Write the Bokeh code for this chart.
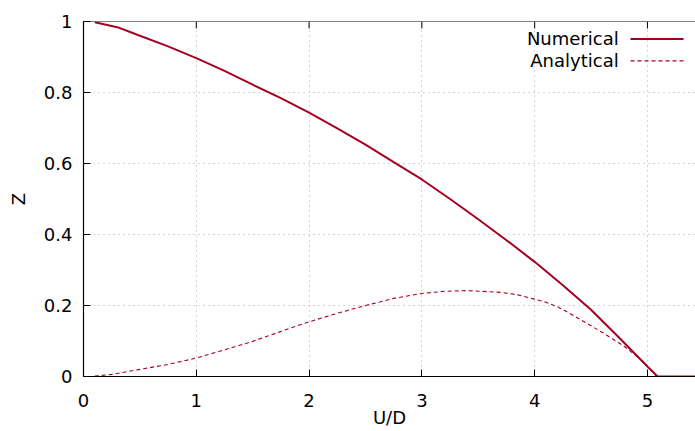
from bokeh.plotting import figure
from bokeh.models import Range1d, FixedTicker, Label, Arrow, Span, CustomJSTickFormatter
from bokeh.embed import file_html
from bokeh.resources import INLINE

# ---- data ----
x_numerical = [0.1, 0.3, 0.5, 0.75, 1.0, 1.25, 1.5, 1.75, 2.0, 2.25, 2.5, 2.75, 3.0,
               3.25, 3.5, 3.75, 4.0, 4.25, 4.5, 4.75, 5.0, 5.09, 5.45]
y_numerical = [0.998, 0.984, 0.960, 0.930, 0.897, 0.861, 0.822, 0.784, 0.743, 0.699, 0.653,
               0.604, 0.555, 0.500, 0.443, 0.384, 0.323, 0.257, 0.188, 0.109, 0.028,
               0.0, 0.0]

x_analytical = [0.1, 0.25, 0.5, 0.75, 1.0, 1.25, 1.5, 1.75, 2.0, 2.25, 2.5, 2.75, 3.0,
                3.2, 3.4, 3.7, 3.85, 4.0, 4.1, 4.2, 4.3, 4.435, 4.6, 4.79, 4.95, 5.08]
y_analytical = [0.001, 0.006, 0.020, 0.034, 0.052, 0.075, 0.099, 0.127, 0.154, 0.178, 0.200,
                0.220, 0.234, 0.240, 0.242, 0.237, 0.230, 0.218, 0.209, 0.197, 0.180, 0.155,
                0.124, 0.086, 0.045, 0.0]

x_ticks = [0, 1, 2, 3, 4, 5]
y_ticks = [0, 0.2, 0.4, 0.6, 0.8, 1.0]
series_labels = ["Numerical", "Analytical"]
x_title = "U/D"
y_title = "Z"

# ---- styling ----
FONT = "DejaVu Sans"
FS = "18px"
RED = "#a50021"
GRID = "#a8a8a8"
TICK_LEN = 7

p = figure(width=695, height=431, output_backend="svg", toolbar_location=None,
           x_range=Range1d(0, 5.426), y_range=Range1d(0, 1),
           min_border_left=83, min_border_right=0, min_border_top=21, min_border_bottom=55,
           x_axis_label=x_title, y_axis_label=y_title)
p.outline_line_color = None
p.background_fill_color = "white"
p.border_fill_color = "white"

for ax, ticks in ((p.xaxis[0], x_ticks), (p.yaxis[0], y_ticks)):
    ax.ticker = FixedTicker(ticks=ticks)
    ax.major_tick_in = TICK_LEN
    ax.major_tick_out = 0
    ax.minor_tick_line_color = None
    ax.axis_line_color = "black"
    ax.major_tick_line_color = "black"
    ax.axis_line_width = 1.2
    ax.major_label_text_font = FONT
    ax.major_label_text_font_size = FS
    ax.major_label_text_color = "black"
    ax.axis_label_text_font = FONT
    ax.axis_label_text_font_size = FS
    ax.axis_label_text_font_style = "normal"
    ax.axis_label_text_color = "black"

p.yaxis[0].formatter = CustomJSTickFormatter(code="return tick.toFixed(1).replace(/\\.0$/, '');")
p.yaxis[0].major_label_standoff = 11
p.yaxis[0].axis_label_standoff = 12
p.xaxis[0].major_label_standoff = 17
p.xaxis[0].axis_label_standoff = -3

for g, ticks in ((p.xgrid[0], x_ticks), (p.ygrid[0], y_ticks)):
    g.ticker = FixedTicker(ticks=ticks)
    g.grid_line_color = GRID
    g.grid_line_dash = "1 4"
    g.grid_line_width = 1

# top border with mirrored inward ticks (gnuplot style)
p.add_layout(Span(location=1, dimension="width", line_color="black", line_width=1.2))
tick_dy = TICK_LEN / 355.0
p.segment(x0=x_ticks, y0=[1] * len(x_ticks), x1=x_ticks, y1=[1 - tick_dy] * len(x_ticks),
          line_color="black", line_width=1)

p.line(x_analytical, y_analytical, line_color=RED, line_width=1.1, line_dash="4 3")
p.line(x_numerical, y_numerical, line_color=RED, line_width=2)

# ---- gnuplot-style key: text on the left, sample on the right ----
key_text_x = 4.745
key_line_x0, key_line_x1 = 4.85, 5.32
key_rows_y = [0.951, 0.889]
key_dash = [None, "4 3"]
key_width = [2, 1.1]
for lab, yy, dash, w in zip(series_labels, key_rows_y, key_dash, key_width):
    p.add_layout(Label(x=key_text_x, y=yy, text=lab, text_align="right",
                       text_baseline="middle", text_font=FONT, text_font_size=FS,
                       text_color="black"))
    kw = dict(line_dash=dash) if dash else {}
    p.add_layout(Arrow(end=None, x_start=key_line_x0, y_start=yy, x_end=key_line_x1, y_end=yy,
                       line_color=RED, line_width=w, **kw))

open("out.html", "w").write(file_html(p, INLINE))
